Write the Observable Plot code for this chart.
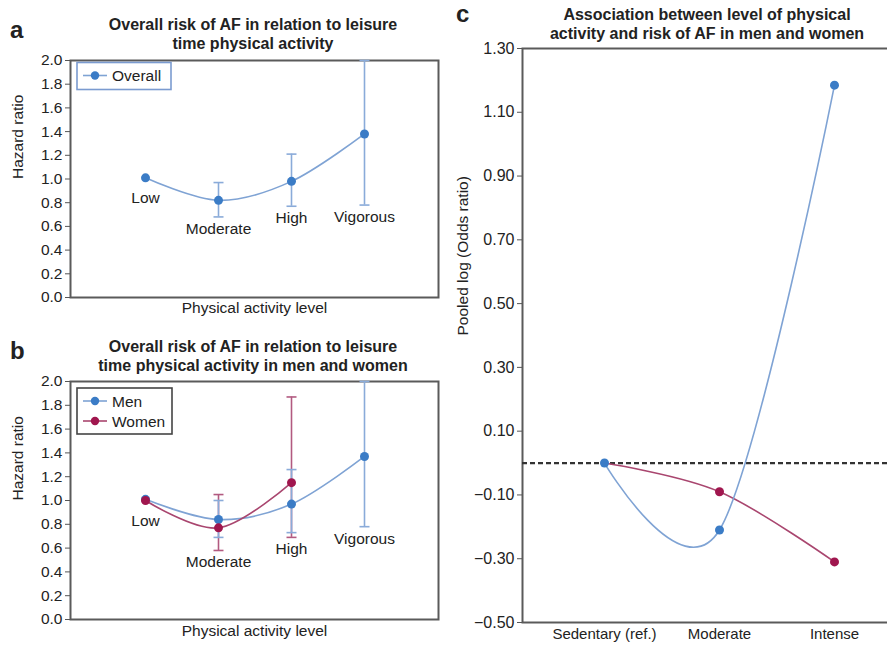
<!DOCTYPE html>
<html>
<head>
<meta charset="utf-8">
<script src="https://cdn.jsdelivr.net/npm/d3@7"></script>
<script src="https://cdn.jsdelivr.net/npm/@observablehq/plot@0.6"></script>
<style>
html, body { margin: 0; padding: 0; background: #fff; }
#root { position: relative; width: 887px; height: 645px; overflow: hidden;
  font-family: "Liberation Sans", Arial, Helvetica, sans-serif; color: #222; }
#root svg { max-width: none !important; overflow: visible; }
.abs { position: absolute; }
.title { font-weight: bold; font-size: 16px; line-height: 19px; text-align: center; white-space: nowrap; }
.letter { font-weight: bold; font-size: 24px; line-height: 24px; }
</style>
</head>
<body>
<div id="root"></div>
<script>
// ---------- data ----------
const levelsAB = ["Low", "Moderate", "High", "Vigorous"];
const overallHR = [1.01, 0.82, 0.98, 1.38];
const overallLo = [null, 0.68, 0.77, 0.78];
const overallHi = [null, 0.97, 1.21, 2.0];

const menHR = [1.01, 0.84, 0.97, 1.37];
const menLo = [null, 0.69, 0.73, 0.78];
const menHi = [null, 1.0, 1.26, 2.0];

const womenLevels = ["Low", "Moderate", "High"];
const womenHR = [1.0, 0.77, 1.15];
const womenLo = [null, 0.58, 0.69];
const womenHi = [null, 1.05, 1.87];

const hrTicks = [0, 0.2, 0.4, 0.6, 0.8, 1.0, 1.2, 1.4, 1.6, 1.8, 2.0];

const levelsC = ["Sedentary (ref.)", "Moderate", "Intense"];
const menLogOR = [0, -0.21, 1.185];
const womenLogOR = [0, -0.09, -0.31];
const logORTicks = [-0.5, -0.3, -0.1, 0.1, 0.3, 0.5, 0.7, 0.9, 1.1, 1.3];

// ---------- styles ----------
const FONT = '"Liberation Sans", Arial, Helvetica, sans-serif';
const DOT_BLUE = "#3b7cc6", LINE_BLUE = "#7fa3d4", BAR_BLUE = "#8aabd9";
const DOT_RED = "#a0164e", LINE_RED = "#a9466f", BAR_RED = "#b25a80";
const FRAME = "#5a5a5a";
const CURVE = { curve: "cardinal", tension: 0 };
const capSymbol = { draw(ctx, size) { const r = Math.sqrt(size / Math.PI); ctx.moveTo(-r, 0); ctx.lineTo(r, 0); } };

const root = document.getElementById("root");
function place(node, left, top) {
  const d = document.createElement("div");
  d.className = "abs"; d.style.left = left + "px"; d.style.top = top + "px";
  d.appendChild(node); root.appendChild(d); return d;
}
function addText(cls, html, left, top, width) {
  const d = document.createElement("div");
  d.className = "abs " + cls; d.style.left = left + "px"; d.style.top = top + "px";
  if (width) d.style.width = width + "px";
  d.innerHTML = html; root.appendChild(d);
}
function rowsOf(levels, hr, lo, hi) {
  return levels.map((level, i) => ({ level, hr: hr[i], lo: lo[i], hi: hi[i] }));
}
function barMarks(rows, barColor) {
  const withBars = rows.filter(d => d.lo != null);
  const caps = withBars.flatMap(d => [{ level: d.level, v: d.lo }, { level: d.level, v: d.hi }]);
  return [
    Plot.ruleX(withBars, { x: "level", y1: "lo", y2: "hi", stroke: barColor, strokeWidth: 1.6 }),
    Plot.dot(caps, { x: "level", y: "v", symbol: capSymbol, r: 5, fill: "none", stroke: barColor, strokeWidth: 1.6 })
  ];
}
function legend(svg, { x, y, w, h, border, items }) {
  const g = d3.select(svg).append("g").attr("text-anchor", "start");
  g.append("rect").attr("x", x).attr("y", y).attr("width", w).attr("height", h)
    .attr("fill", "#fff").attr("stroke", border).attr("stroke-width", 1.6);
  items.forEach((it, i) => {
    const cy = y + 13 + i * 20;
    g.append("line").attr("x1", x + 6).attr("x2", x + 30).attr("y1", cy).attr("y2", cy)
      .attr("stroke", it.line).attr("stroke-width", 1.6);
    g.append("circle").attr("cx", x + 18).attr("cy", cy).attr("r", 4.2).attr("fill", it.dot);
    g.append("text").attr("x", x + 35).attr("y", cy + 5.5).attr("font-size", 15.5)
      .attr("text-anchor", "start").attr("font-family", FONT).attr("fill", "#222").text(it.label);
  });
}
const baseStyle = { fontFamily: FONT, fontSize: "15.5px", color: "#222", background: "transparent" };

// ---------- panel a ----------
const rowsA = rowsOf(levelsAB, overallHR, overallLo, overallHi);
const plotA = Plot.plot({
  width: 450, height: 280, marginTop: 10, marginRight: 12, marginBottom: 33, marginLeft: 70,
  style: baseStyle,
  x: { type: "point", domain: levelsAB, padding: 1, axis: null },
  y: { domain: [0, 2] },
  marks: [
    Plot.frame({ stroke: FRAME, strokeWidth: 2 }),
    Plot.axisY({ ticks: hrTicks, tickFormat: d3.format(".1f"), tickSize: 5, tickPadding: 3, stroke: "#555", label: null }),
    ...barMarks(rowsA, BAR_BLUE),
    Plot.line(rowsA, { x: "level", y: "hr", ...CURVE, stroke: LINE_BLUE, strokeWidth: 1.6 }),
    Plot.dot(rowsA, { x: "level", y: "hr", r: 4.5, fill: DOT_BLUE }),
    Plot.text(rowsA.filter(d => d.lo == null), { x: "level", y: "hr", text: "level", lineAnchor: "top", dy: 14, fill: "#222" }),
    Plot.text(rowsA.filter(d => d.lo != null), { x: "level", y: "lo", text: "level", lineAnchor: "top", dy: 6, fill: "#222" }),
    Plot.text(["Hazard ratio"], { text: d => d, frameAnchor: "left", rotate: -90, dx: -52, fill: "#222" }),
    Plot.text(["Physical activity level"], { text: d => d, frameAnchor: "bottom", dy: 15, fill: "#222" })
  ]
});
legend(plotA, { x: 77, y: 12.5, w: 94, h: 27, border: "#7b9bd0",
  items: [{ label: "Overall", line: LINE_BLUE, dot: DOT_BLUE }] });
place(plotA, 0, 50);

// ---------- panel b ----------
const rowsMen = rowsOf(levelsAB, menHR, menLo, menHi);
const rowsWomen = rowsOf(womenLevels, womenHR, womenLo, womenHi);
const labelB = levelsAB.map(level => {
  const m = rowsMen.find(d => d.level === level), w = rowsWomen.find(d => d.level === level);
  const los = [m, w].filter(d => d && d.lo != null).map(d => d.lo);
  const hrs = [m, w].filter(d => d).map(d => d.hr);
  return { level, y: los.length ? Math.min(...los) : Math.min(...hrs), bar: los.length > 0 };
});
const plotB = Plot.plot({
  width: 450, height: 275, marginTop: 11, marginRight: 12, marginBottom: 26, marginLeft: 70,
  style: baseStyle,
  x: { type: "point", domain: levelsAB, padding: 1, axis: null },
  y: { domain: [0, 2] },
  marks: [
    Plot.frame({ stroke: FRAME, strokeWidth: 2 }),
    Plot.axisY({ ticks: hrTicks, tickFormat: d3.format(".1f"), tickSize: 5, tickPadding: 3, stroke: "#555", label: null }),
    ...barMarks(rowsWomen, BAR_RED),
    ...barMarks(rowsMen, BAR_BLUE),
    Plot.line(rowsMen, { x: "level", y: "hr", ...CURVE, stroke: LINE_BLUE, strokeWidth: 1.6 }),
    Plot.line(rowsWomen, { x: "level", y: "hr", ...CURVE, stroke: LINE_RED, strokeWidth: 1.6 }),
    Plot.dot(rowsMen, { x: "level", y: "hr", r: 4.5, fill: DOT_BLUE }),
    Plot.dot(rowsWomen, { x: "level", y: "hr", r: 4.5, fill: DOT_RED }),
    Plot.text(labelB.filter(d => !d.bar), { x: "level", y: "y", text: "level", lineAnchor: "top", dy: 14, fill: "#222" }),
    Plot.text(labelB.filter(d => d.bar), { x: "level", y: "y", text: "level", lineAnchor: "top", dy: 6, fill: "#222" }),
    Plot.text(["Hazard ratio"], { text: d => d, frameAnchor: "left", rotate: -90, dx: -52, fill: "#222" }),
    Plot.text(["Physical activity level"], { text: d => d, frameAnchor: "bottom", dy: 16, fill: "#222" })
  ]
});
legend(plotB, { x: 77, y: 18, w: 95, h: 46, border: "#444",
  items: [{ label: "Men", line: LINE_BLUE, dot: DOT_BLUE }, { label: "Women", line: LINE_RED, dot: DOT_RED }] });
place(plotB, 0, 370);

// ---------- panel c ----------
const rowsCmen = levelsC.map((level, i) => ({ level, v: menLogOR[i] }));
const rowsCwomen = levelsC.map((level, i) => ({ level, v: womenLogOR[i] }));
const plotC = Plot.plot({
  width: 466, height: 645, marginTop: 48, marginRight: 0, marginBottom: 23, marginLeft: 72,
  style: { ...baseStyle, fontSize: "16px" },
  x: { type: "point", domain: levelsC, padding: 0.7 },
  y: { domain: [-0.5, 1.3] },
  marks: [
    Plot.frame({ stroke: FRAME, strokeWidth: 2 }),
    Plot.axisY({ ticks: logORTicks, tickFormat: d3.format(".2f"), tickSize: 5, tickPadding: 3, stroke: "#555", label: null }),
    Plot.axisX({ tickSize: 0, tickPadding: 6, fontSize: 15, label: null }),
    Plot.ruleY([0], { stroke: "#333", strokeWidth: 2.2, strokeDasharray: "5,3" }),
    Plot.line(rowsCwomen, { x: "level", y: "v", ...CURVE, stroke: LINE_RED, strokeWidth: 1.6 }),
    Plot.line(rowsCmen, { x: "level", y: "v", ...CURVE, stroke: LINE_BLUE, strokeWidth: 1.6 }),
    Plot.dot(rowsCwomen.slice(1), { x: "level", y: "v", r: 4.5, fill: DOT_RED }),
    Plot.dot(rowsCmen, { x: "level", y: "v", r: 4.5, fill: DOT_BLUE }),
    Plot.text(["Pooled log (Odds ratio)"], { text: d => d, frameAnchor: "left", rotate: -90, dx: -59, fontSize: 15.5, fill: "#222" })
  ]
});
place(plotC, 450, 0);

// ---------- titles & panel letters ----------
addText("title", "Overall risk of AF in relation to leisure<br>time physical activity", 53, 15.3, 400);
addText("title", "Overall risk of AF in relation to leisure<br>time physical activity in men and women", 53, 336.5, 400);
addText("title", "Association between level of physical<br>activity and risk of AF in men and women", 507, 4.7, 400);
addText("letter", "a", 10, 17.7);
addText("letter", "b", 10, 338.7);
addText("letter", "c", 456, 1.5);
</script>
</body>
</html>
